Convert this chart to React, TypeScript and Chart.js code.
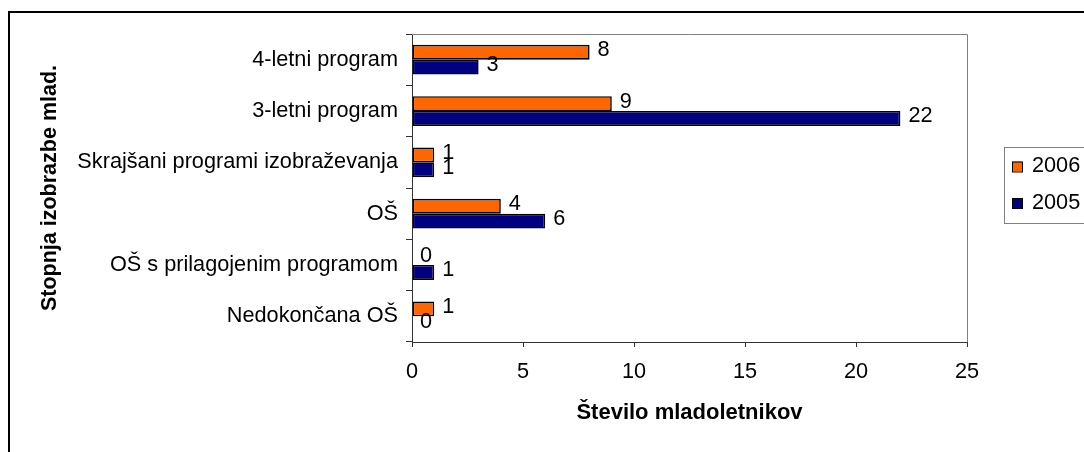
import React, { useEffect, useRef } from "react";
import { Chart, registerables } from "chart.js";

Chart.register(...registerables);

const categories = [
  "4-letni program",
  "3-letni program",
  "Skrajšani programi izobraževanja",
  "OŠ",
  "OŠ s prilagojenim programom",
  "Nedokončana OŠ",
];
const seriesNames = ["2006", "2005"];
const values2006 = [8, 9, 1, 4, 0, 1];
const values2005 = [3, 22, 1, 6, 1, 0];
const seriesColors = ["#FF6600", "#000080"];
const xTickValues = [0, 5, 10, 15, 20, 25];
const xTitle = "Število mladoletnikov";
const yTitle = "Stopnja izobrazbe mlad.";

const FONT = "'Liberation Sans', Arial, sans-serif";
const TEXT_SIZE = 21.7;

const framePlugin = {
  id: "frame",
  beforeDatasetsDraw(chart: any) {
    const { ctx, chartArea } = chart;
    ctx.save();
    ctx.strokeStyle = "#808080";
    ctx.lineWidth = 1;
    ctx.beginPath();
    ctx.moveTo(chartArea.left, Math.round(chartArea.top) + 0.5);
    ctx.lineTo(Math.round(chartArea.right) + 0.5, Math.round(chartArea.top) + 0.5);
    ctx.lineTo(Math.round(chartArea.right) + 0.5, chartArea.bottom);
    ctx.stroke();
    ctx.restore();
  },
};

const valueLabelPlugin = {
  id: "valueLabels",
  afterDatasetsDraw(chart: any) {
    const { ctx } = chart;
    ctx.save();
    ctx.font = `${TEXT_SIZE}px ${FONT}`;
    ctx.fillStyle = "#000";
    ctx.textAlign = "left";
    ctx.textBaseline = "middle";
    chart.data.datasets.forEach((ds: any, i: number) => {
      const meta = chart.getDatasetMeta(i);
      meta.data.forEach((bar: any, j: number) => {
        ctx.fillText(String(ds.data[j]), bar.x + 8, bar.y - 2);
      });
    });
    ctx.restore();
  },
};

const legendPlugin = {
  id: "boxLegend",
  afterDraw(chart: any) {
    const { ctx } = chart;
    const boxX = 994.5;
    const boxY = 134.5;
    const boxH = 76;
    ctx.save();
    ctx.strokeStyle = "#808080";
    ctx.lineWidth = 1;
    ctx.strokeRect(boxX, boxY, 200, boxH);
    ctx.font = `${TEXT_SIZE}px ${FONT}`;
    ctx.textAlign = "left";
    ctx.textBaseline = "middle";
    const rowYs = [153.5, 190];
    chart.data.datasets.forEach((ds: any, i: number) => {
      const cy = rowYs[i];
      ctx.fillStyle = ds.backgroundColor;
      ctx.fillRect(1002, cy - 5, 10, 10);
      ctx.strokeStyle = "#000";
      ctx.strokeRect(1002.5, cy - 4.5, 10, 10);
      ctx.fillStyle = "#000";
      ctx.fillText(ds.label, 1022, cy);
    });
    ctx.restore();
  },
};

export default function App() {
  const canvasRef = useRef<HTMLCanvasElement | null>(null);

  useEffect(() => {
    if (!canvasRef.current) return;
    const chart = new Chart(canvasRef.current, {
      type: "bar",
      data: {
        labels: categories,
        datasets: [
          {
            label: seriesNames[0],
            data: values2006,
            backgroundColor: seriesColors[0],
            borderColor: "#000",
            borderWidth: 1.6,
            borderSkipped: false,
            categoryPercentage: 0.58,
            barPercentage: 1,
          },
          {
            label: seriesNames[1],
            data: values2005,
            backgroundColor: seriesColors[1],
            borderColor: "#000",
            borderWidth: 1.6,
            borderSkipped: false,
            categoryPercentage: 0.58,
            barPercentage: 1,
          },
        ],
      },
      options: {
        indexAxis: "y",
        responsive: false,
        animation: false,
        devicePixelRatio: 1,
        layout: { padding: { left: 0, top: 19, right: 143, bottom: 31 } },
        plugins: {
          legend: { display: false },
          tooltip: { enabled: false },
        },
        scales: {
          x: {
            min: 0,
            max: 25,
            afterBuildTicks: (s: any) => {
              s.ticks = xTickValues.map((v) => ({ value: v }));
            },
            afterFit: (s: any) => {
              s.height = 100;
            },
            ticks: {
              color: "#000",
              font: { family: FONT, size: TEXT_SIZE },
              padding: 12.5,
            },
            grid: {
              drawOnChartArea: false,
              drawTicks: true,
              tickLength: 5,
              color: "#333",
            },
            border: { display: true, color: "#333", width: 1 },
            title: {
              display: true,
              text: xTitle,
              color: "#000",
              font: { family: FONT, size: 22, weight: "bold" },
              padding: { top: 0, bottom: 16 },
            },
          },
          y: {
            afterFit: (s: any) => {
              s.width = 402;
            },
            ticks: {
              color: "#000",
              font: { family: FONT, size: TEXT_SIZE },
              padding: 8,
            },
            grid: {
              drawOnChartArea: false,
              drawTicks: true,
              tickLength: 6,
              offset: true,
              color: "#333",
            },
            border: { display: true, color: "#333", width: 1 },
            title: {
              display: true,
              text: yTitle,
              color: "#000",
              font: { family: FONT, size: 21.5, weight: "bold" },
              padding: { top: 27, bottom: 0 },
            },
          },
        },
      } as any,
      plugins: [framePlugin, valueLabelPlugin, legendPlugin],
    });
    return () => chart.destroy();
  }, []);

  return (
    <div
      style={{
        position: "fixed",
        left: 0,
        top: 0,
        width: 1084,
        height: 452,
        overflow: "hidden",
        background: "#fff",
      }}
    >
      <div
        style={{
          position: "absolute",
          left: 8,
          top: 11,
          width: 1200,
          height: 600,
          border: "2px solid #000",
        }}
      >
        <canvas
          ref={canvasRef}
          width={1100}
          height={460}
          style={{ display: "block", width: 1100, height: 460 }}
        />
      </div>
    </div>
  );
}
